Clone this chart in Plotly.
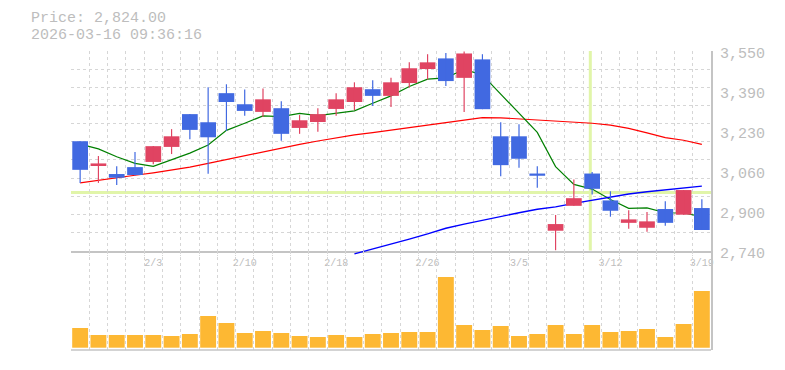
import numpy as np
import plotly.graph_objects as go

# ---------------- data ----------------
DATES = ["1/28", "1/29", "1/30", "2/2", "2/3", "2/4", "2/5", "2/6", "2/9", "2/10",
         "2/12", "2/13", "2/16", "2/17", "2/18", "2/19", "2/20", "2/24", "2/25", "2/26",
         "2/27", "3/2", "3/3", "3/4", "3/5", "3/6", "3/9", "3/10", "3/11", "3/12",
         "3/13", "3/16", "3/17", "3/18", "3/19"]
OPEN = [3184, 3087, 3051, 3079, 3100, 3161, 3294, 3261, 3379, 3334,
        3303, 3318, 3238, 3262, 3315, 3343, 3395, 3368, 3420, 3477,
        3520, 3441, 3516, 3204, 3204, 3053, 2821, 2922, 3053, 2944,
        2853, 2833, 2909, 2886, 2913]
HIGH = [3184, 3124, 3083, 3140, 3165, 3233, 3294, 3403, 3415, 3394,
        3398, 3346, 3290, 3318, 3379, 3423, 3431, 3441, 3504, 3537,
        3542, 3548, 3537, 3261, 3253, 3083, 2885, 3029, 3059, 2981,
        2904, 2897, 2941, 2986, 2949]
LOW = [3015, 3015, 3006, 3045, 3091, 3132, 3192, 3052, 3226, 3287,
       3283, 3186, 3214, 3222, 3287, 3310, 3327, 3323, 3402, 3434,
       3408, 3303, 3314, 3042, 3076, 2995, 2742, 2922, 2968, 2878,
       2829, 2817, 2841, 2886, 2824]
CLOSE = [3068, 3094, 3036, 3047, 3164, 3204, 3230, 3200, 3343, 3307,
         3354, 3214, 3269, 3294, 3354, 3403, 3368, 3423, 3480, 3504,
         3428, 3540, 3314, 3087, 3113, 3044, 2848, 2953, 2991, 2902,
         2867, 2859, 2853, 2986, 2824]
VOLUME = [197, 127, 127, 127, 127, 117, 137, 317, 247, 147,
          167, 147, 117, 107, 127, 107, 137, 147, 157, 157,
          707, 227, 177, 217, 117, 137, 227, 137, 227, 157,
          167, 187, 107, 237, 567]  # thousand shares
MA5 = [3172, 3153, 3121, 3094, 3082, 3109, 3136, 3169, 3228, 3257,
       3287, 3284, 3297, 3288, 3297, 3307, 3338, 3368, 3406, 3436,
       3441, 3475, 3453, 3375, 3296, 3220, 3081, 3009, 2990, 2948,
       2912, 2914, 2894, 2893, 2878]
MA25 = [3015, 3026, 3038, 3046, 3056, 3067, 3079, 3094, 3110, 3126,
        3141, 3157, 3171, 3185, 3199, 3210, 3219, 3229, 3240, 3250,
        3262, 3272, 3280, 3279, 3275, 3271, 3268, 3264, 3257, 3249,
        3236, 3218, 3199, 3188, 3171]
MA75 = [None] * 15 + [2727, 2746, 2767, 2787, 2808, 2831, 2848, 2864, 2880, 2894,
                      2908, 2918, 2932, 2945, 2959, 2970, 2979, 2987, 2995, 3002]
X_TICK_LABELS = ["2/3", "2/10", "2/18", "2/26", "3/5", "3/12", "3/19"]
Y_TICK_LABELS = ["2,740", "2,900", "3,060", "3,230", "3,390", "3,550"]
Y_MIN, Y_MAX = 2740, 3550
CROSS_IDX, CROSS_PRICE = 27.9, 2976
HEADER = ["Price: 2,824.00", "2026-03-16 09:36:16"]

# ---------------- styling / layout ----------------
W, H = 785, 370
L_PX, R_PX, T_PX, B_PX = 71, 711, 51, 350
PRICE_BOTTOM_PX = 250.7
LINE_BOTTOM_PX = 256
VOL_BASE_PX = 347.7
FONT = "Liberation Mono, Courier New, monospace"
TXT = "#bdbdbd"
GRID = "#d6d6d6"
AXLINE = "#c4c4c4"
UP = "#e04462"
DOWN = "#4169e1"
VOLC = "#fdb833"
CROSS = "#e1f5a9"

ph = B_PX - T_PX
frac = lambda px: (B_PX - px) / ph
ppp = (Y_MAX - Y_MIN) / (PRICE_BOTTOM_PX - T_PX)
line_lo = Y_MIN - (LINE_BOTTOM_PX - PRICE_BOTTOM_PX) * ppp
vol_units_per_px = 10
vol_range = [-(B_PX - VOL_BASE_PX) * vol_units_per_px,
             (VOL_BASE_PX - PRICE_BOTTOM_PX) * vol_units_per_px]

n = len(DATES)
xi = list(range(n))

fig = go.Figure()

# moving averages (subplot x / y2, drawn under candles)
for ma, col, w in [(MA25, "#ff0000", 1.2), (MA5, "#008000", 1.2), (MA75, "#0000ff", 1.4)]:
    fig.add_trace(go.Scatter(x=xi, y=ma, mode="lines", line=dict(color=col, width=w),
                             xaxis="x", yaxis="y2", hoverinfo="skip", connectgaps=False))

# candles (overlay y3 on y2)
up = [c >= o for o, c in zip(OPEN, CLOSE)]
body_base = [min(o, c) for o, c in zip(OPEN, CLOSE)]
body_h = [max(abs(c - o), 4) for o, c in zip(OPEN, CLOSE)]
fig.add_trace(go.Bar(x=xi, y=body_h, base=body_base, width=0.86,
                     marker=dict(color=[UP if u else DOWN for u in up], line=dict(width=0)),
                     xaxis="x", yaxis="y3", hoverinfo="skip"))
for flag, col in [(True, UP), (False, DOWN)]:
    wx, wy = [], []
    for i in range(n):
        if up[i] == flag:
            wx += [i, i, None]
            wy += [LOW[i], HIGH[i], None]
    fig.add_trace(go.Scatter(x=wx, y=wy, mode="lines", line=dict(color=col, width=1.2),
                             xaxis="x", yaxis="y3", hoverinfo="skip"))

# volume
fig.add_trace(go.Bar(x=xi, y=VOLUME, width=0.87, marker=dict(color=VOLC, line=dict(width=0)),
                     xaxis="x", yaxis="y5", hoverinfo="skip"))

tick_idx = [DATES.index(t) for t in X_TICK_LABELS]
grid_vals = list(np.linspace(Y_MIN, Y_MAX, 12))
label_vals = list(np.linspace(Y_MIN, Y_MAX, len(Y_TICK_LABELS)))

fig.update_layout(
    width=W, height=H, margin=dict(l=L_PX, r=W - R_PX, t=T_PX, b=H - B_PX, pad=0),
    paper_bgcolor="white", plot_bgcolor="rgba(0,0,0,0)", showlegend=False, barmode="overlay",
    font=dict(family=FONT, color=TXT),
    xaxis=dict(domain=[0, 1], range=[-0.5, n - 0.5], anchor="y",
               tickmode="array", tickvals=tick_idx, ticktext=X_TICK_LABELS,
               tickfont=dict(size=10, color=TXT, family=FONT), ticks="", ticklabelstandoff=2,
               showgrid=False, zeroline=False, showline=True, linecolor=AXLINE, linewidth=1.5,
               minor=dict(tickmode="array", tickvals=[i - 0.5 for i in range(n + 1)],
                          showgrid=True, gridcolor=GRID, griddash="3px,3px", gridwidth=1, ticks="")),
    yaxis=dict(domain=[frac(PRICE_BOTTOM_PX), 1], range=[Y_MIN, Y_MAX], anchor="x", side="right",
               tickmode="array", tickvals=grid_vals, showticklabels=False, ticks="",
               showgrid=True, gridcolor=GRID, griddash="3px,3px", gridwidth=1,
               zeroline=False, showline=True, linecolor=AXLINE, linewidth=1.5),
    yaxis2=dict(domain=[frac(LINE_BOTTOM_PX), 1], range=[line_lo, Y_MAX], anchor="x", side="right",
                tickmode="array", tickvals=label_vals, ticktext=Y_TICK_LABELS,
                tickfont=dict(size=15, color=TXT, family=FONT), ticks="", ticklabelstandoff=8,
                ticklabelshift=2,
                showgrid=False, zeroline=False, showline=False),
    yaxis3=dict(overlaying="y2", range=[line_lo, Y_MAX], anchor="x", side="right",
                showticklabels=False, showgrid=False, zeroline=False, showline=False),
    yaxis5=dict(domain=[0, frac(PRICE_BOTTOM_PX)], range=vol_range, anchor="x", side="right",
                showticklabels=False, ticks="", showgrid=False, zeroline=False,
                showline=True, linecolor=AXLINE, linewidth=1.5),
)

# crosshair
fig.add_shape(type="line", xref="x", yref="y", x0=CROSS_IDX, x1=CROSS_IDX, y0=Y_MIN, y1=Y_MAX,
              line=dict(color=CROSS, width=3), layer="between")
fig.add_shape(type="line", xref="x", yref="y", x0=-0.5, x1=n - 0.5, y0=CROSS_PRICE, y1=CROSS_PRICE,
              line=dict(color=CROSS, width=3), layer="between")
# volume panel bottom frame line
fig.add_shape(type="line", xref="x domain", yref="y5 domain", x0=0, x1=1, y0=0, y1=0,
              line=dict(color=AXLINE, width=1.5))

# header
for k, txt in enumerate(HEADER):
    fig.add_annotation(text=txt, xref="paper", yref="paper", x=(30 - L_PX) / (R_PX - L_PX),
                       y=frac(18.2 + 16.8 * k), xanchor="left", yanchor="middle", showarrow=False,
                       font=dict(size=15, color=TXT, family=FONT), borderpad=0)

fig.write_html("out.html")
